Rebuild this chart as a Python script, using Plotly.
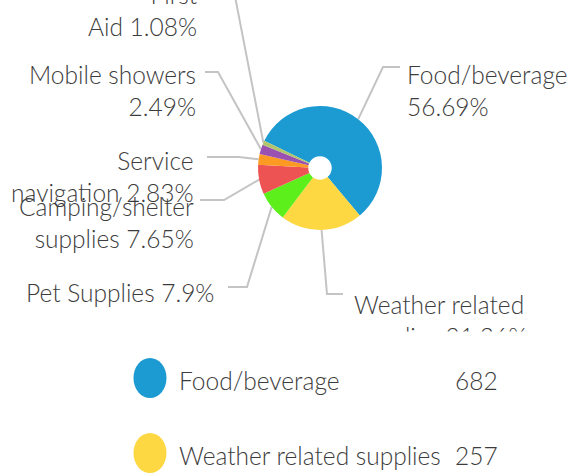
import math
import plotly.graph_objects as go

# ---------------- data ----------------
categories = ["Food/beverage", "Weather related supplies", "Pet Supplies",
              "Camping/shelter supplies", "Service navigation", "Mobile showers", "First Aid"]
counts = [682, 257, 95, 92, 34, 30, 13]
colors = ["#1b9bd2", "#fdd843", "#5cef1c", "#ee5353", "#fd9a24", "#9b51b2", "#b0c56c"]
legend_items = ["Food/beverage", "Weather related supplies"]

# ---------------- layout constants (pixels) ----------------
W, H = 578, 476
CX, CY, R = 320, 168, 62
HOLE = 0.19
ROTATION = -64
FONT = "Lato"
TXT = "#3c3c3c"
LINE = "#c4c4c4"
FS = 24.5

def px(x):
    return x / W

def py(y):
    return 1 - y / H

total = sum(counts)
pcts = [c / total * 100 for c in counts]

def fmt(p):
    return f"{p:.2f}".rstrip("0").rstrip(".") + "%"

# per label: words before line break, side, text x, block centre y, line end, elbow
label_layout = {
    "Food/beverage":            (1, "left", 405, 90, (400, 67), (383, 67)),
    "Weather related supplies": (2, "left", 352, 320, (343, 294), (327, 294)),
    "Pet Supplies":             (None, "right", 216, 292, (228, 287), (247, 287)),
    "Camping/shelter supplies": (1, "right", 196, 222, (200, 200), (224, 200)),
    "Service navigation":       (1, "right", 196, 176, (207, 157), (239, 157)),
    "Mobile showers":           (2, "right", 198, 90, (205, 72), (218, 72)),
    "First Aid":                (1, "right", 200, 10, (210, -14), (233, -14)),
}

fig = go.Figure()
fig.add_trace(go.Pie(
    labels=categories, values=counts, sort=False, direction="clockwise",
    rotation=ROTATION, hole=HOLE, marker=dict(colors=colors, line=dict(width=0)),
    textinfo="none", showlegend=False,
    domain=dict(x=[px(CX - R), px(CX + R)], y=[py(CY + R), py(CY - R)]),
))

font = dict(family=FONT, size=FS, color=TXT, weight=300)

annotations = []
shapes = []
cum = 0.0
for name, v, p in zip(categories, counts, pcts):
    mid = ROTATION + (cum + v / 2) / total * 360
    cum += v
    brk, side, tx, ty, end, elbow = label_layout[name]
    words = f"{name} {fmt(p)}".split(" ")
    text = " ".join(words) if brk is None else " ".join(words[:brk]) + "<br>" + " ".join(words[brk:])
    annotations.append(dict(
        x=px(tx), y=py(ty), xref="paper", yref="paper", text=text, showarrow=False,
        xanchor="left" if side == "left" else "right", yanchor="middle",
        align=side, font=font))
    a = math.radians(mid)
    ex, ey = CX + R * math.sin(a), CY - R * math.cos(a)
    shapes.append(dict(
        type="path", xref="paper", yref="paper", layer="below",
        path=f"M {px(end[0])} {py(end[1])} L {px(elbow[0])} {py(elbow[1])} L {px(ex)} {py(ey)}",
        line=dict(color=LINE, width=2)))

# clip band below the chart area (the chart panel ends here)
annotations.append(dict(x=px(290), y=py(331), xref="paper", yref="paper", text=" ",
                        showarrow=False, xanchor="left", yanchor="top", width=288, height=22,
                        bgcolor="white", borderpad=0))

# custom legend with counts
legend_y = [378, 453]
for name, ly in zip(legend_items, legend_y):
    i = categories.index(name)
    shapes.append(dict(type="circle", xref="paper", yref="paper",
                       x0=px(150 - 16.5), x1=px(150 + 16.5), y0=py(ly + 20), y1=py(ly - 20),
                       fillcolor=colors[i], line=dict(width=0)))
    annotations.append(dict(x=px(177), y=py(ly + 2), xref="paper", yref="paper", text=name,
                            showarrow=False, xanchor="left", yanchor="middle", font=font))
    annotations.append(dict(x=px(500), y=py(ly + 2), xref="paper", yref="paper", text=str(counts[i]),
                            showarrow=False, xanchor="right", yanchor="middle", font=font))

fig.update_layout(
    width=W, height=H, margin=dict(l=0, r=0, t=0, b=0),
    paper_bgcolor="white", plot_bgcolor="white",
    annotations=annotations, shapes=shapes, showlegend=False,
)

fig.write_html("out.html", config={"displayModeBar": False},
               post_script="document.body.style.margin='0';")
